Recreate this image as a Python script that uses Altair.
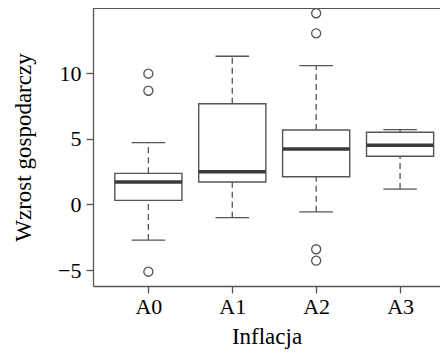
import altair as alt
import pandas as pd

categories = ["A0", "A1", "A2", "A3"]
positions = [1, 2, 3, 4]
whisker_low = [-2.72, -1.01, -0.56, 1.17]
q1 = [0.31, 1.71, 2.11, 3.67]
median = [1.71, 2.49, 4.23, 4.51]
q3 = [2.37, 7.68, 5.68, 5.50]
whisker_high = [4.71, 11.30, 10.58, 5.70]

outlier_cat = ["A0", "A0", "A0", "A2", "A2", "A2", "A2"]
outlier_pos = [1, 1, 1, 3, 3, 3, 3]
outlier_val = [9.97, 8.67, -5.13, 14.58, 13.05, -3.42, -4.29]

stats = pd.DataFrame({
    "cat": categories, "pos": positions, "lo": whisker_low, "q1": q1,
    "med": median, "q3": q3, "hi": whisker_high,
})
outliers = pd.DataFrame({"cat": outlier_cat, "pos": outlier_pos, "val": outlier_val})

FONT = "Liberation Serif"
LINE = "#555555"
W, H = 347, 278
xdom = [0.34, 0.34 + W / 83.9]
ydom = [-6.22, 14.98]

label_expr = "[" + ",".join(f"'{c}'" for c in categories) + "][datum.value - 1]"

xs = alt.Scale(domain=xdom, nice=False, zero=False)
ys = alt.Scale(domain=ydom, nice=False, zero=False)

x_axis = alt.Axis(values=positions, labelExpr=label_expr, title="Inflacja")
y_axis = alt.Axis(values=[-5, 0, 5, 10], title="Wzrost gospodarczy")

base = alt.Chart(stats).transform_calculate(
    xl="datum.pos - 0.4", xr="datum.pos + 0.4",
    cl="datum.pos - 0.2", cr="datum.pos + 0.2",
)

whisk_up = base.mark_rule(color=LINE, strokeWidth=1.3, strokeDash=[6, 4]).encode(
    x=alt.X("pos:Q", scale=xs, axis=x_axis),
    y=alt.Y("q3:Q", scale=ys, axis=y_axis),
    y2="hi:Q",
)
whisk_dn = base.mark_rule(color=LINE, strokeWidth=1.3, strokeDash=[6, 4]).encode(
    x=alt.X("pos:Q", scale=xs, axis=x_axis), y=alt.Y("lo:Q", scale=ys, axis=y_axis), y2="q1:Q",
)
cap_hi = base.mark_rule(color=LINE, strokeWidth=1.3).encode(
    x=alt.X("cl:Q", scale=xs, axis=x_axis), x2="cr:Q", y=alt.Y("hi:Q", scale=ys, axis=y_axis),
)
cap_lo = base.mark_rule(color=LINE, strokeWidth=1.3).encode(
    x=alt.X("cl:Q", scale=xs, axis=x_axis), x2="cr:Q", y=alt.Y("lo:Q", scale=ys, axis=y_axis),
)
box = base.mark_rect(fill="white", stroke=LINE, strokeWidth=1.4).encode(
    x=alt.X("xl:Q", scale=xs, axis=x_axis), x2="xr:Q", y=alt.Y("q1:Q", scale=ys, axis=y_axis), y2="q3:Q",
)
med = base.mark_rule(color="#3a3a3a", strokeWidth=3.5).encode(
    x=alt.X("xl:Q", scale=xs, axis=x_axis), x2="xr:Q", y=alt.Y("med:Q", scale=ys, axis=y_axis),
)
pts = alt.Chart(outliers).mark_point(shape="circle", filled=False, color=LINE,
                                     strokeWidth=1.3, size=82, opacity=1).encode(
    x=alt.X("pos:Q", scale=xs, axis=x_axis), y=alt.Y("val:Q", scale=ys, axis=y_axis),
)
top = alt.Chart(stats).mark_rule(color=LINE, strokeWidth=1.3).encode(
    x=alt.value(0), x2=alt.value(W + 10), y=alt.value(0),
)

chart = alt.layer(whisk_up, whisk_dn, cap_hi, cap_lo, box, med, pts, top).properties(
    width=W, height=H,
    autosize=alt.AutoSizeParams(type="none"),
    padding={"left": 85, "top": 0, "right": 0, "bottom": 70},
).configure(
    background="white", font=FONT,
).configure_view(stroke=None).configure_axis(
    grid=False, domainColor=LINE, tickColor=LINE, tickSize=7,
    domainWidth=1.3, tickWidth=1.3, labelFont=FONT, labelFontSize=22,
    labelColor="#000", labelPadding=3, titleFont=FONT, titleFontSize=23,
    titleFontWeight="normal", titleColor="#000",
).configure_axisX(titlePadding=8).configure_axisY(titlePadding=22, labelPadding=5)

chart.save("out.html", embed_options={"renderer": "svg", "actions": False})
